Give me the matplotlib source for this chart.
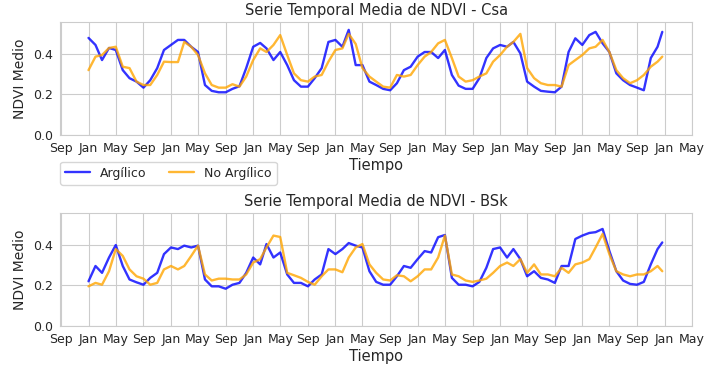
import numpy as np
import pandas as pd
import matplotlib
matplotlib.use('Agg')
import matplotlib.pyplot as plt
import matplotlib.dates as mdates
import seaborn as sns

# fechas: inicio de cada mes + ultimo compuesto de diciembre
fechas = list(pd.date_range('2016-01-01', '2022-12-01', freq='MS')) + [pd.Timestamp('2022-12-22')]

csa_argilico = [0.48, 0.445, 0.37, 0.43, 0.42, 0.32, 0.28, 0.263, 0.233, 0.27, 0.33, 0.42,
                0.445, 0.47, 0.47, 0.436, 0.41, 0.246, 0.217, 0.21, 0.21, 0.227, 0.24, 0.33,
                0.436, 0.455, 0.428, 0.37, 0.41, 0.345, 0.27, 0.238, 0.238, 0.28, 0.33, 0.46,
                0.47, 0.436, 0.52, 0.345, 0.345, 0.263, 0.246, 0.227, 0.22, 0.255, 0.32, 0.337,
                0.387, 0.41, 0.41, 0.38, 0.42, 0.296, 0.243, 0.227, 0.227, 0.28, 0.38, 0.428,
                0.445, 0.436, 0.46, 0.403, 0.263, 0.238, 0.217, 0.213, 0.21, 0.238, 0.41, 0.478,
                0.445, 0.494, 0.51, 0.453, 0.41, 0.304, 0.27, 0.246, 0.233, 0.22, 0.38, 0.436, 0.51]
csa_no_argilico = [0.32, 0.387, 0.395, 0.43, 0.436, 0.337, 0.33, 0.263, 0.246, 0.246, 0.296, 0.362,
                   0.36, 0.36, 0.46, 0.436, 0.395, 0.304, 0.246, 0.233, 0.233, 0.25, 0.238, 0.288,
                   0.37, 0.428, 0.41, 0.445, 0.494, 0.395, 0.304, 0.27, 0.263, 0.288, 0.296, 0.362,
                   0.42, 0.428, 0.50, 0.45, 0.33, 0.288, 0.263, 0.238, 0.233, 0.296, 0.288, 0.296,
                   0.345, 0.387, 0.41, 0.453, 0.47, 0.38, 0.288, 0.263, 0.27, 0.288, 0.304, 0.362,
                   0.395, 0.436, 0.46, 0.50, 0.33, 0.28, 0.255, 0.246, 0.246, 0.238, 0.345, 0.37,
                   0.395, 0.428, 0.436, 0.47, 0.41, 0.32, 0.28, 0.255, 0.27, 0.296, 0.337, 0.362, 0.387]

bsk_argilico = [0.22, 0.296, 0.262, 0.338, 0.40, 0.296, 0.229, 0.215, 0.203, 0.237, 0.262, 0.355,
                0.388, 0.38, 0.397, 0.388, 0.397, 0.229, 0.195, 0.195, 0.183, 0.203, 0.212, 0.262,
                0.338, 0.304, 0.405, 0.338, 0.363, 0.254, 0.212, 0.212, 0.195, 0.229, 0.254, 0.38,
                0.355, 0.38, 0.41, 0.397, 0.388, 0.27, 0.217, 0.203, 0.203, 0.245, 0.296, 0.287,
                0.33, 0.37, 0.363, 0.439, 0.45, 0.237, 0.203, 0.203, 0.195, 0.217, 0.287, 0.38,
                0.388, 0.338, 0.38, 0.33, 0.245, 0.27, 0.237, 0.229, 0.212, 0.296, 0.296, 0.43,
                0.447, 0.46, 0.464, 0.48, 0.371, 0.27, 0.224, 0.207, 0.203, 0.217, 0.304, 0.38, 0.413]
bsk_no_argilico = [0.195, 0.212, 0.203, 0.27, 0.38, 0.346, 0.279, 0.245, 0.233, 0.203, 0.212, 0.279,
                   0.296, 0.279, 0.296, 0.346, 0.397, 0.254, 0.224, 0.233, 0.233, 0.229, 0.229, 0.254,
                   0.313, 0.33, 0.388, 0.447, 0.44, 0.262, 0.25, 0.237, 0.217, 0.203, 0.245, 0.279,
                   0.279, 0.265, 0.338, 0.388, 0.405, 0.304, 0.262, 0.229, 0.224, 0.25, 0.245, 0.22,
                   0.245, 0.279, 0.279, 0.338, 0.447, 0.254, 0.245, 0.224, 0.217, 0.224, 0.233, 0.262,
                   0.296, 0.313, 0.296, 0.33, 0.262, 0.304, 0.254, 0.254, 0.245, 0.287, 0.262, 0.304,
                   0.313, 0.33, 0.388, 0.455, 0.355, 0.27, 0.254, 0.245, 0.254, 0.254, 0.27, 0.296, 0.27]

climas = ['Csa', 'BSk']

sns.set_style('whitegrid')
plt.rcParams['font.family'] = ['DejaVu Sans']

fig, axes = plt.subplots(2, 1, figsize=(7.1, 3.7), dpi=100)
plt.subplots_adjust(left=0.085, right=0.975, top=0.94, bottom=0.12, hspace=0.70)

series = [(csa_argilico, csa_no_argilico), (bsk_argilico, bsk_no_argilico)]
for ax, clima, (arg, noarg) in zip(axes, climas, series):
    ax.plot(fechas, arg, color='blue', alpha=0.8, lw=1.7, label='Argílico')
    ax.plot(fechas, noarg, color='orange', alpha=0.8, lw=1.7, label='No Argílico')
    ax.set_title('Serie Temporal Media de NDVI - ' + clima, fontsize=10.5, color='.15', pad=5)
    ax.set_xlabel('Tiempo', fontsize=10.5, color='.15', labelpad=2)
    ax.set_ylabel('NDVI Medio', fontsize=10, color='.15')
    ax.set_ylim(0, 0.558)
    ax.set_yticks([0.0, 0.2, 0.4])
    ax.set_xlim(pd.Timestamp('2015-08-29'), pd.Timestamp('2023-05-04'))
    ax.xaxis.set_major_locator(mdates.MonthLocator(bymonth=[1, 5, 9]))
    ax.xaxis.set_major_formatter(mdates.DateFormatter('%b'))
    ax.tick_params(labelsize=9, colors='.15', pad=2)

axes[0].legend(loc='upper left', bbox_to_anchor=(0.0, -0.24), ncol=2, fontsize=9,
               frameon=True, borderaxespad=0, columnspacing=1.8)

plt.savefig('out.png', dpi=100)
